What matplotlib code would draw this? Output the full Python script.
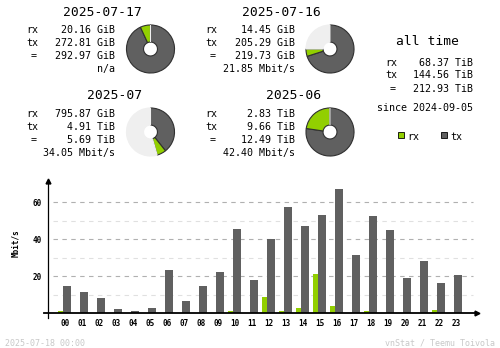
import numpy as np
import matplotlib
matplotlib.use('Agg')
import matplotlib.pyplot as plt

# hourly traffic (Mbit/s)
hours = ['%02d' % h for h in range(24)]
rx_hour = [1.2, 0.0, 0.4, 0.0, 0.0, 0.0, 0.4, 0.0, 0.4, 0.4, 1.2, 0.4,
           8.8, 1.2, 2.9, 21.2, 3.9, 0.4, 1.2, 0.4, 0.4, 0.4, 1.6, 0.4]
tx_hour = [14.8, 11.5, 8.3, 2.3, 1.2, 2.9, 23.4, 6.6, 14.8, 22.3, 45.6, 18.0,
           40.2, 57.5, 47.2, 53.1, 67.2, 31.5, 52.6, 45.0, 19.1, 28.3, 16.4, 20.7]

# summary blocks (values in GiB for the pies, strings as shown)
titles = ['2025-07-17', '2025-07-16', '2025-07', '2025-06']
rx_gib = [20.16, 14.45, 795.87, 2.83 * 1024]
tx_gib = [272.81, 205.29, 4.91 * 1024, 9.66 * 1024]
rx_txt = ['20.16 GiB', '14.45 GiB', '795.87 GiB', '2.83 TiB']
tx_txt = ['272.81 GiB', '205.29 GiB', '4.91 TiB', '9.66 TiB']
tot_txt = ['292.97 GiB', '219.73 GiB', '5.69 TiB', '12.49 TiB']
rate_txt = ['n/a', '21.85 Mbit/s', '34.05 Mbit/s', '42.40 Mbit/s']

alltime_labels = ['rx', 'tx', '=']
alltime_vals = ['68.37 TiB', '144.56 TiB', '212.93 TiB']
since_txt = 'since 2024-09-05'

RX = '#92cf00'
TX = '#606060'
EDGE = '#303030'
EMPTY = '#efefef'
MONO = 'DejaVu Sans Mono'

W, H = 500, 348
fig = plt.figure(figsize=(W / 100, H / 100), dpi=100)


def px(x, y):
    return x / W, 1 - y / H


def txt(x, y, s, size=7.2, ha='left', color='black', weight='normal'):
    fig.text(*px(x, y), s, fontsize=size, ha=ha, va='center_baseline',
             family=MONO, color=color, fontweight=weight)


# text blocks + pies
blocks = [(26, 115, 142, 29, 150.5, 49), (205, 295, 321, 29, 330, 49),
          (26, 115, 142, 113, 150.5, 132), (205, 295, 321, 113, 330, 132)]
for i, (xl, xr, xt, y0, cx, cy) in enumerate(blocks):
    txt(xt, 11 if y0 < 60 else 94, titles[i], size=9.4, ha='right')
    rows = [('rx', rx_txt[i]), ('tx', tx_txt[i]), ('=', tot_txt[i])]
    for j, (lab, val) in enumerate(rows):
        yy = y0 + [0, 12.8, 26][j]
        txt(xl if lab != '=' else xl + 5, yy, lab)
        txt(xr, yy, val, ha='right')
    txt(xr, y0 + 39, rate_txt[i], ha='right')

    pair = [0, 1] if i < 2 else [2, 3]
    full = max(rx_gib[k] + tx_gib[k] for k in pair)
    rest = full - rx_gib[i] - tx_gib[i]
    r = 24.5
    pax = fig.add_axes([(cx - r) / W, 1 - (cy + r) / H, 2 * r / W, 2 * r / H])
    wedges, _ = pax.pie([tx_gib[i], rx_gib[i], max(rest, 1e-9)],
                        colors=[TX, RX, EMPTY], startangle=90, counterclock=False,
                        radius=1.0, wedgeprops=dict(width=0.71, linewidth=0.8))
    wedges[0].set_edgecolor(EDGE)
    wedges[1].set_edgecolor(EDGE)
    wedges[2].set_edgecolor(EMPTY)
    pax.set_xlim(-1.02, 1.02)
    pax.set_ylim(-1.02, 1.02)
    pax.set_aspect('equal')
    pax.axis('off')

# all time block
txt(428, 40, 'all time', size=9.4, ha='center')
for j, (lab, val) in enumerate(zip(alltime_labels, alltime_vals)):
    yy = 61.7 + [0, 12.6, 26][j]
    txt(385 if lab != '=' else 390, yy, lab)
    txt(473, yy, val, ha='right')
txt(473, 106.7, since_txt, ha='right')

# legend
for (sx, lab, col) in [(398, 'rx', RX), (441, 'tx', TX)]:
    fig.patches.append(plt.Rectangle(px(sx, 137.5), 5.5 / W, 5.5 / H, transform=fig.transFigure,
                                     facecolor=col, edgecolor='black', linewidth=0.6))
    txt(sx + 9, 136, lab)

# hourly chart
left, right, top, bottom = 48, 477, 181, 313.3
ax = fig.add_axes([left / W, 1 - bottom / H, (right - left) / W, (bottom - top) / H])
x = np.arange(24)
ax.bar(x - 4.5 / 17, rx_hour, width=5 / 17, color=RX, zorder=3)
ax.bar(x + 2 / 17, tx_hour, width=8 / 17, color=TX, zorder=3)
ax.set_xlim(-1.0, (right - 65) / 17)
ax.set_ylim(0, (bottom - top) / 1.85)

for v in [10, 30, 50]:
    ax.axhline(v, xmin=5 / 429, xmax=425 / 429, color='#e0e0e0', lw=0.8,
               dashes=(4, 4), zorder=1)
for v in [20, 40, 60]:
    ax.axhline(v, xmin=5 / 429, xmax=425 / 429, color='#b0b0b0', lw=0.8,
               dashes=(4, 4), zorder=1)

for s in ax.spines.values():
    s.set_visible(False)
ax.plot([0, 0], [-4.4 / 132.3, 1], transform=ax.transAxes, color='black',
        lw=0.9, clip_on=False, zorder=4)
ax.plot([-4 / 429, 1], [0, 0], transform=ax.transAxes, color='black',
        lw=1.3, clip_on=False, zorder=4)
ax.plot([0], [1], marker='^', ms=3.5, color='black', transform=ax.transAxes, clip_on=False)
ax.plot([1], [0], marker='>', ms=3.5, color='black', transform=ax.transAxes, clip_on=False)

ax.set_xticks(x)
ax.set_xticklabels(hours)
ax.set_yticks([20, 40, 60])
ax.tick_params(length=0, labelsize=5.5)
ax.tick_params(axis='x', pad=4)
ax.tick_params(axis='y', pad=4.5)
for t in ax.get_xticklabels() + ax.get_yticklabels():
    t.set_family(MONO)
    t.set_fontweight('bold')
ax.set_ylabel('Mbit/s', fontsize=5.5, family=MONO, fontweight='bold')
ax.yaxis.set_label_coords(-28 / 429, 0.53)

# footer
txt(5, 342, '2025-07-18 00:00', size=6, color='#c8c8c8')
txt(495, 342, 'vnStat / Teemu Toivola', size=6, ha='right', color='#c8c8c8')

fig.savefig('out.png', dpi=100, facecolor='white')
